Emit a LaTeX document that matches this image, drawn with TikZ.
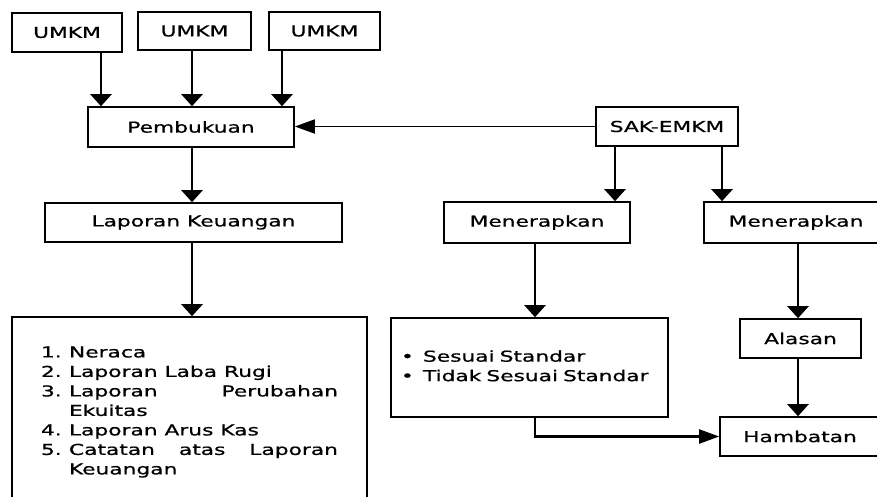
\documentclass[tikz,border=0pt]{standalone}
\usepackage{fontspec}
\setmainfont{DejaVu Sans}[FakeStretch=1.45, FakeBold=0.8]
\usepackage{array}
\usetikzlibrary{ arrows.meta, % For the filled triangle tips
                 positioning,
               }
\tikzstyle{box} = [rectangle, draw=black, line width=1.6pt, inner sep=0pt, text centered, font=\fontsize{15}{19.5}\selectfont]
\tikzstyle{varrow} = [line width=2.6pt, -{Triangle[width=21pt, length=12pt]}]
\tikzstyle{harrow} = [line width=2.2pt, -{Triangle[width=14pt, length=20pt]}]

\begin{document}
\begin{tikzpicture}[x=1pt, y=-1pt]
  \path[use as bounding box, clip] (0,0) rectangle (877,496);

  % top row
  \node (umkm1) [box, minimum width=110pt, minimum height=39pt] at (67, 32.5) {UMKM};
  \node (umkm2) [box, minimum width=113pt, minimum height=38pt] at (194.5, 31) {UMKM};
  \node (umkm3) [box, minimum width=111pt, minimum height=38pt] at (324.5, 31) {UMKM};

  % left column
  \node (pembukuan) [box, minimum width=206pt, minimum height=40pt] at (191, 127) {Pembukuan};
  \node (lapkeu) [box, minimum width=297pt, minimum height=39pt] at (193.5, 222.5) {Laporan Keuangan};
  \node (lapbox) [box, minimum width=355pt, minimum height=190pt] at (189.5, 412) {%
    \begin{tabular}{@{}p{28pt}@{}p{269pt}@{}}
      1. & Neraca\\
      2. & Laporan Laba Rugi\\
      3. & Laporan \hfill Perubahan\\
         & Ekuitas\\
      4. & Laporan Arus Kas\\
      5. & Catatan \hfill atas \hfill Laporan\\
         & Keuangan
    \end{tabular}};

  % right side
  \node (sak) [box, minimum width=142pt, minimum height=39pt] at (667, 126.5) {SAK-EMKM};
  \node (men1) [box, minimum width=186pt, minimum height=41pt] at (537, 222.5) {Menerapkan};
  \node (men2) [box, minimum width=184pt, minimum height=41pt] at (796, 222.5) {Menerapkan};
  \node (sesuai) [box, minimum width=277pt, minimum height=99pt, text width=257pt, inner xsep=10pt, align=left] at (529.5, 367.5) {%
    \begin{tabular}{@{}p{22pt}@{}l@{}}
      \textbullet & Sesuai Standar\\
      \textbullet & Tidak Sesuai Standar
    \end{tabular}};
  \node (alasan) [box, minimum width=121pt, minimum height=39pt] at (800.5, 338.5) {Alasan};
  \node (hambatan) [box, minimum width=160pt, minimum height=39pt] at (800, 436.5) {Hambatan};

  % connectors
  \draw [varrow] ([xshift=34pt]umkm1.south) -- ([xshift=34pt]umkm1.south |- pembukuan.north);
  \draw [varrow] ([xshift=-2.5pt]umkm2.south) -- ([xshift=-2.5pt]umkm2.south |- pembukuan.north);
  \draw [varrow] ([xshift=-42.5pt]umkm3.south) -- ([xshift=-42.5pt]umkm3.south |- pembukuan.north);
  \draw [harrow, line width=1.8pt] (sak.west) -- (sak.west -| pembukuan.east);
  \draw [varrow] ([xshift=1pt]pembukuan.south) -- ([xshift=1pt]pembukuan.south |- lapkeu.north);
  \draw [varrow] ([xshift=-1.5pt]lapkeu.south) -- ([xshift=-1.5pt]lapkeu.south |- lapbox.north);
  \draw [varrow] ([xshift=-52pt]sak.south) -- ([xshift=-52pt]sak.south |- men1.north);
  \draw [varrow] ([xshift=55pt]sak.south) -- ([xshift=55pt]sak.south |- men2.north);
  \draw [varrow] ([xshift=-2pt]men1.south) -- ([xshift=-2pt]men1.south |- sesuai.north);
  \draw [varrow] ([xshift=2pt]men2.south) -- ([xshift=2pt]men2.south |- alasan.north);
  \draw [varrow] ([xshift=-2.5pt]alasan.south) -- ([xshift=-2.5pt]alasan.south |- hambatan.north);
  \draw [harrow] ([xshift=5.5pt]sesuai.south) |- (hambatan.west);
\end{tikzpicture}
\end{document}
